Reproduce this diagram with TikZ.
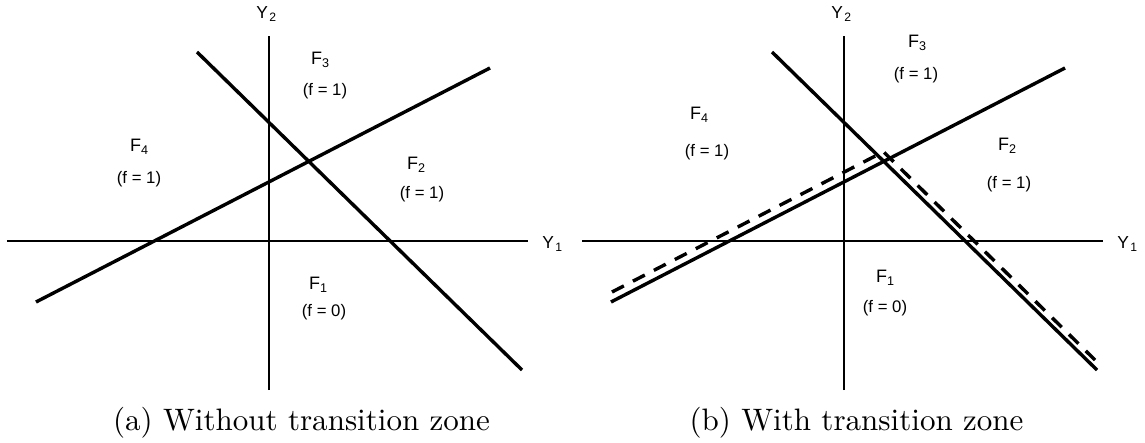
\documentclass[tikz,border=0pt]{standalone}
\usepackage{fontspec}
\newfontfamily\labelfont{Liberation Sans}
\usetikzlibrary{calc}
\tikzset{
  axis/.style={line width=0.45pt,draw=black},
  boundary/.style={line width=1.1pt,draw=black},
  zone/.style={boundary,dash pattern=on 4.3pt off 3.3pt},
  region/.style={font=\labelfont\fontsize{5.8}{7}\selectfont,inner sep=0pt},
  value/.style={font=\labelfont\fontsize{5.4}{6.5}\selectfont,inner sep=0pt},
  axlabel/.style={font=\labelfont\fontsize{5.6}{6.5}\selectfont,inner sep=0pt},
  caption/.style={font=\fontsize{10}{12}\selectfont,anchor=base,inner sep=0pt}
}

\begin{document}
\begin{tikzpicture}[x=0.1133cm,y=0.1133cm]
  \useasboundingbox (-26.9,-20.1) rectangle (87.6,24.1);

  % (a) without transition zone
  \begin{scope}
    \coordinate (a-xl) at (-26.2,0);
    \coordinate (a-xr) at (25.9,0);
    \coordinate (a-yb) at (0,-14.9);
    \coordinate (a-yt) at (0,20.5);
    \coordinate (a-ds) at (-7.2,18.9);
    \coordinate (a-de) at (25.3,-12.9);
    \coordinate (a-is) at (-23.3,-6.1);
    \coordinate (a-ie) at (22.1,17.3);
    \draw[axis] (a-xl) -- (a-xr);
    \draw[axis] (a-yb) -- (a-yt);
    \draw[boundary] (a-ds) -- (a-de);
    \draw[boundary] (a-is) -- (a-ie);
    \node[axlabel] (a-y1) at (28.4,-0.3) {Y\kern0.4pt\textsubscript{1}};
    \node[axlabel] (a-y2) at (-0.2,22.7) {Y\kern0.4pt\textsubscript{2}};
    \node[region] (a-f3) at (5.2,18.1) {F\textsubscript{3}};
    \node[value]  (a-v3) at (5.6,15.0) {(f = 1)};
    \node[region] (a-f4) at (-12.9,9.4) {F\textsubscript{4}};
    \node[value]  (a-v4) at (-13.0,6.2) {(f = 1)};
    \node[region] (a-f2) at (14.8,7.6) {F\textsubscript{2}};
    \node[value]  (a-v2) at (15.3,4.7) {(f = 1)};
    \node[region] (a-f1) at (5.0,-4.4) {F\textsubscript{1}};
    \node[value]  (a-v1) at (5.5,-7.1) {(f = 0)};
    \node[caption] (a-cap) at (3.25,-18.9) {(a) Without transition zone};
  \end{scope}

  % (b) with transition zone
  \begin{scope}[shift={(57.5,0)}]
    \coordinate (b-xl) at (-26.2,0);
    \coordinate (b-xr) at (25.9,0);
    \coordinate (b-yb) at (0,-14.9);
    \coordinate (b-yt) at (0,20.5);
    \coordinate (b-ds) at (-7.2,18.9);
    \coordinate (b-de) at (25.3,-12.9);
    \coordinate (b-is) at (-23.3,-6.1);
    \coordinate (b-ie) at (22.1,17.3);
    \draw[axis] (b-xl) -- (b-xr);
    \draw[axis] (b-yb) -- (b-yt);
    \draw[boundary] (b-ds) -- (b-de);
    \draw[boundary] (b-is) -- (b-ie);
    % shifted boundary
    \coordinate (b-zs) at ($(b-is)+(0.1,1)$);
    \coordinate (b-zi) at ($(b-ie)+(0,1)$);
    \coordinate (b-zd) at ($(b-ds)+(0,1)$);
    \coordinate (b-ze) at ($(b-de)+(-0.2,1)$);
    \coordinate (b-zc) at (intersection of b-zs--b-zi and b-zd--b-ze);
    \draw[zone] (b-zs) -- (b-zc) -- (b-ze);
    \node[axlabel] (b-y1) at (28.4,-0.3) {Y\kern0.4pt\textsubscript{1}};
    \node[axlabel] (b-y2) at (-0.2,22.7) {Y\kern0.4pt\textsubscript{2}};
    \node[region] (b-f3) at (7.4,19.8) {F\textsubscript{3}};
    \node[value]  (b-v3) at (7.2,16.6) {(f = 1)};
    \node[region] (b-f4) at (-14.4,12.6) {F\textsubscript{4}};
    \node[value]  (b-v4) at (-13.7,8.9) {(f = 1)};
    \node[region] (b-f2) at (16.4,9.5) {F\textsubscript{2}};
    \node[value]  (b-v2) at (16.5,5.7) {(f = 1)};
    \node[region] (b-f1) at (4.2,-3.7) {F\textsubscript{1}};
    \node[value]  (b-v1) at (4.1,-6.7) {(f = 0)};
    \node[caption] (b-cap) at (1.25,-18.9) {(b) With transition zone};
  \end{scope}
\end{tikzpicture}
\end{document}
